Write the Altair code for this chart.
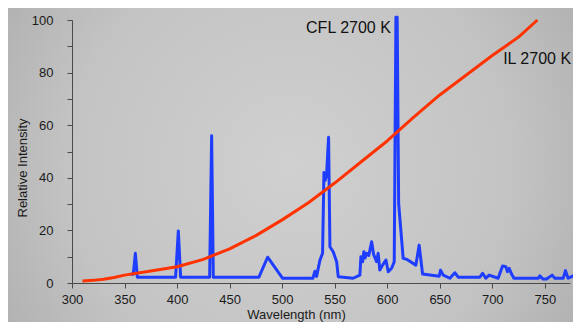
import altair as alt
import pandas as pd

# CFL 2700 K spectrum (wavelength nm, relative intensity)
cfl_nm = [356.1, 358.3, 360.3, 362.2, 398.6, 401.2, 403.4, 431.0, 432.9, 434.5,
          477.9, 486.2, 500.5, 529.3, 531.2, 532.8, 536.0, 538.5, 539.8, 541.0,
          542.3, 544.2, 545.5, 548.6, 551.9, 553.4, 567.6, 574.0, 575.0, 576.6,
          577.8, 579.0, 580.4, 582.5, 585.2, 587.0, 589.9, 591.4, 593.0, 595.6,
          598.8, 601.0, 604.2, 606.7, 608.3, 609.5, 610.9, 615.2, 618.5, 627.3,
          630.4, 633.7, 649.5, 650.8, 653.3, 659.7, 664.4, 667.6, 688.2, 690.8,
          693.9, 697.0, 705.6, 709.8, 712.9, 714.5, 716.1, 718.4, 720.6, 743.7,
          745.3, 748.4, 751.7, 757.0, 759.6, 767.5, 769.7, 772.2, 778.6, 783.4]
cfl_val = [3.3, 3.3, 11.3, 2.2, 2.2, 19.8, 2.2, 2.2, 56.0, 2.2,
           2.2, 9.8, 1.8, 1.8, 4.5, 2.5, 8.7, 11.3, 42.0, 39.0,
           41.0, 55.4, 13.8, 11.9, 8.1, 2.4, 1.8, 3.0, 10.0, 8.1,
           11.9, 9.5, 11.3, 10.5, 15.7, 11.0, 8.1, 11.3, 4.9, 6.8,
           8.7, 4.3, 5.6, 8.1, 101.0, 101.0, 30.3, 9.4, 9.0, 6.8,
           14.4, 3.4, 2.6, 4.9, 3.0, 1.8, 3.9, 2.2, 2.2, 3.7,
           1.8, 3.0, 1.8, 6.5, 6.2, 4.3, 5.6, 3.4, 1.8, 1.8,
           2.7, 1.5, 1.5, 3.0, 1.8, 1.8, 4.7, 1.8, 3.0, 1.8]

# IL 2700 K curve
il_nm = [310, 320, 330, 340, 350, 375, 400, 425, 450, 475, 500, 525, 550, 575,
         600, 625, 650, 675, 700, 725, 743]
il_val = [0.8, 1.0, 1.4, 2.1, 3.0, 4.6, 6.2, 9.0, 13.0, 18.0, 24.0, 30.5, 38.0, 46.0,
          54.0, 63.0, 71.5, 79.0, 86.5, 93.5, 100.0]

label_text = ["CFL 2700 K", "IL 2700 K"]
label_nm = [603.5, 775.0]
label_val = [97.1, 85.2]

x_ticks = [300, 350, 400, 450, 500, 550, 600, 650, 700, 750]
y_ticks = [0, 10, 20, 30, 40, 50, 60, 70, 80, 90, 100]

W, H = 498, 263
FONT = "Liberation Sans"
AXC = "#4a4a4a"

cfl = pd.DataFrame({"nm": cfl_nm, "v": cfl_val})
il = pd.DataFrame({"nm": il_nm, "v": il_val})
labels = pd.DataFrame({"nm": label_nm, "v": label_val, "t": label_text})

xs = alt.Scale(domain=[300, 774], nice=False, zero=False)
ys = alt.Scale(domain=[0, 100], nice=False)

x_axis = alt.Axis(values=x_ticks, title="Wavelength (nm)", grid=False, tickSize=5,
                  labelPadding=5, labelFlush=False, labelOverlap=False,
                  titleX=224, titleY=35, titleBaseline="alphabetic",
                  titleAlign="center", zindex=1)
y_axis = alt.Axis(values=y_ticks, labelExpr="datum.value % 20 == 0 ? datum.label : ''",
                  title="Relative Intensity", grid=False, tickSize=5, labelPadding=14,
                  labelFlush=False, labelOverlap=False,
                  titleX=-46, titleY=147.5, titleAngle=270,
                  titleBaseline="alphabetic", titleAlign="center", zindex=1)

bg = alt.Chart(pd.DataFrame({"a": [0]})).mark_rect(
    fill=alt.RadialGradient(
        gradient="radial",
        stops=[alt.GradientStop(color="#d0d0d0", offset=0),
               alt.GradientStop(color="#c3c3c3", offset=0.55),
               alt.GradientStop(color="#a4a4a4", offset=1)],
        x1=0.5, y1=0.5, r1=0, x2=0.5, y2=0.5, r2=0.72),
    stroke=None,
).encode(x=alt.value(-64), x2=alt.value(W + 3), y=alt.value(-12), y2=alt.value(H + 39))

blue = alt.Chart(cfl).mark_line(color="#1f3dff", strokeWidth=3, strokeJoin="round").encode(
    x=alt.X("nm:Q", scale=xs, axis=x_axis),
    y=alt.Y("v:Q", scale=ys, axis=y_axis),
    order=alt.Order("nm:Q"),
)
red = alt.Chart(il).mark_line(color="#ff3300", strokeWidth=3, strokeJoin="round").encode(
    x=alt.X("nm:Q", scale=xs, axis=x_axis),
    y=alt.Y("v:Q", scale=ys, axis=y_axis),
)
txt = alt.Chart(labels).mark_text(align="right", baseline="middle", fontSize=16,
                                  font=FONT, color="#111111").encode(
    x=alt.X("nm:Q", scale=xs, axis=x_axis),
    y=alt.Y("v:Q", scale=ys, axis=y_axis),
    text="t:N",
)

chart = alt.layer(bg, blue, red, txt).properties(
    width=W, height=H,
    padding={"left": 64, "top": 12, "right": 3, "bottom": 39},
    autosize=alt.AutoSizeParams(type="none"),
    background="#bcbcbc",
).configure_view(stroke=None).configure_axis(
    labelFont=FONT, titleFont=FONT, labelFontSize=13, titleFontSize=13,
    titleFontWeight="normal", labelColor="#1a1a1a", titleColor="#1a1a1a",
    domainColor=AXC, tickColor=AXC, domainWidth=1, tickWidth=1,
)

chart.save("out.html", embed_options={"renderer": "svg", "actions": False})
